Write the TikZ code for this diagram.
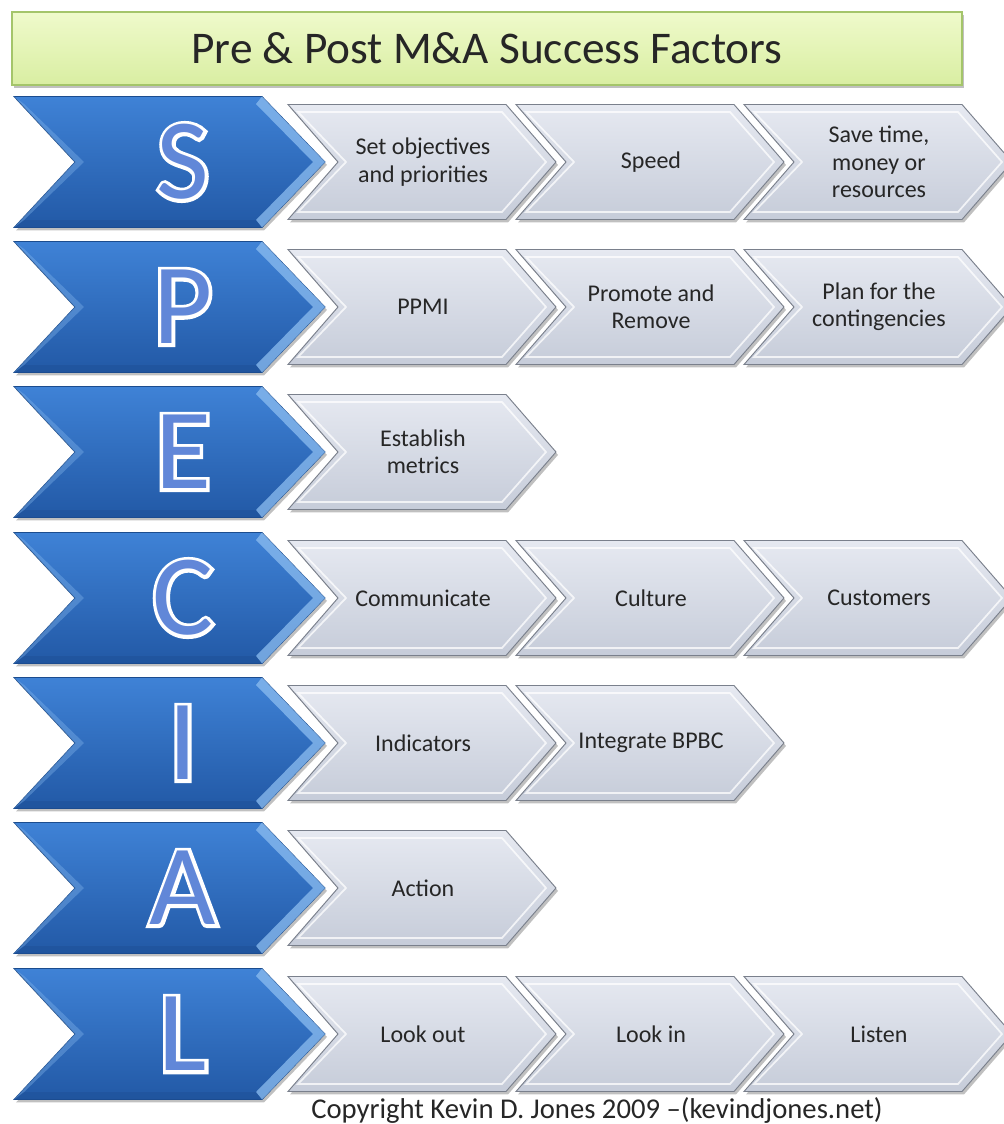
\documentclass[tikz,border=0pt]{standalone}
\usepackage{fontspec}
\setmainfont{Carlito}
\newfontface\letterout{Carlito}[FakeBold=6]
\newfontface\letterin{Carlito}
\usetikzlibrary{shadows}
\definecolor{bluetop}{HTML}{3F82D6}
\definecolor{bluebot}{HTML}{2259A6}
\definecolor{blueedge}{HTML}{1B4C8E}
\definecolor{bluelight}{HTML}{8CBDF0}
\definecolor{bluedark}{HTML}{1E4F95}
\definecolor{graytop}{HTML}{E6E9F1}
\definecolor{graybot}{HTML}{C6CCD9}
\definecolor{grayedge}{HTML}{7A808C}
\definecolor{titletop}{HTML}{EFFACB}
\definecolor{titlebot}{HTML}{D9EEA2}
\definecolor{titleedge}{HTML}{A4C56A}
\definecolor{lettfill}{HTML}{6187D8}
\definecolor{txt}{HTML}{262626}
\tikzset{
  shad/.style={drop shadow={shadow xshift=1.5pt, shadow yshift=-2.2pt, opacity=.35, fill=black!70}},
  bluebody/.style={top color=bluetop, bottom color=bluebot, draw=blueedge, line width=.6pt, shad},
  graybody/.style={top color=graytop, bottom color=graybot, draw=grayedge, line width=.7pt, shad},
  titlebox/.style={top color=titletop, bottom color=titlebot, draw=titleedge, line width=1pt,
    minimum width=712.5pt, minimum height=54.75pt, inner sep=0pt, shad,
    font=\fontsize{34}{37}\selectfont, text=txt},
  gtext/.style={align=center, font=\fontsize{18}{20.5}\selectfont, text=txt, inner sep=0pt},
  letter/.style={font=\fontsize{86}{86}\selectfont, inner sep=0pt},
  copyr/.style={font=\fontsize{21.5}{24}\selectfont, text=txt, inner sep=0pt}
}
\newcommand\bluechev[3]{%
  \path[bluebody] (14,#2-65.5) -- (262,#2-65.5) -- (325,#2) -- (262,#2+65.5) -- (14,#2+65.5) -- (75,#2) -- cycle;
  \fill[bluelight, opacity=.75] (262,#2-65.5) -- (325,#2) -- (262,#2+65.5) -- (256,#2+58) -- (313,#2) -- (256,#2-58) -- cycle;
  \fill[bluedark, opacity=.45] (14,#2+65.5) -- (262,#2+65.5) -- (256,#2+58) -- (24,#2+58) -- cycle;
  \fill[bluelight, opacity=.35] (24,#2-58) -- (84,#2) -- (24,#2+58) -- (14,#2+65.5) -- (75,#2) -- (14,#2-65.5) -- cycle;
  \node[letter] (#1) at (183,#2) {\makebox[0pt][l]{\letterout\color{white}#3}{\letterin\color{lettfill}#3}};
}
\newcommand\graychev[4]{%
  \path[graybody] (#2,#3-57.5) -- (#2+218,#3-57.5) -- (#2+268,#3) -- (#2+218,#3+57.5) -- (#2,#3+57.5) -- (#2+50,#3) -- cycle;
  \draw[white, opacity=.75, line width=1.3pt] (#2+10,#3-50) -- (#2+214,#3-50) -- (#2+258,#3) -- (#2+214,#3+50) -- (#2+10,#3+50) -- (#2+58,#3) -- cycle;
  \node[gtext] (#1) at (#2+135,#3) {#4};
}
\begin{document}
\begin{tikzpicture}[x=0.75pt, y=-0.75pt]
  \useasboundingbox (0,0) rectangle (1003,1124);
  \fill[white] (0,0) rectangle (1003,1124);
  \node[titlebox] (title) at (487,48.5) {Pre \& Post M\&A Success Factors};

  % S
  \bluechev{S}{162}{S}
  \graychev{s3}{744}{162}{Save time,\\money or\\resources}
  \graychev{s2}{516}{162}{Speed}
  \graychev{s1}{288}{162}{Set objectives\\and priorities}
  % P
  \bluechev{P}{307}{P}
  \graychev{p3}{744}{307}{Plan for the\\contingencies}
  \graychev{p2}{516}{307}{Promote and\\Remove}
  \graychev{p1}{288}{307}{PPMI}
  % E
  \bluechev{E}{452}{E}
  \graychev{e1}{288}{452}{Establish\\metrics}
  % C
  \bluechev{C}{598}{C}
  \graychev{c3}{744}{598}{Customers}
  \graychev{c2}{516}{598}{Culture}
  \graychev{c1}{288}{598}{Communicate}
  % I
  \bluechev{I}{743}{I}
  \graychev{i2}{516}{743}{Integrate BPBC}
  \graychev{i1}{288}{743}{Indicators}
  % A
  \bluechev{A}{888}{A}
  \graychev{a1}{288}{888}{Action}
  % L
  \bluechev{L}{1034}{L}
  \graychev{l3}{744}{1034}{Listen}
  \graychev{l2}{516}{1034}{Look in}
  \graychev{l1}{288}{1034}{Look out}

  \node[copyr] (copy) at (597,1110) {Copyright Kevin D. Jones 2009 –(kevindjones.net)};
\end{tikzpicture}
\end{document}
